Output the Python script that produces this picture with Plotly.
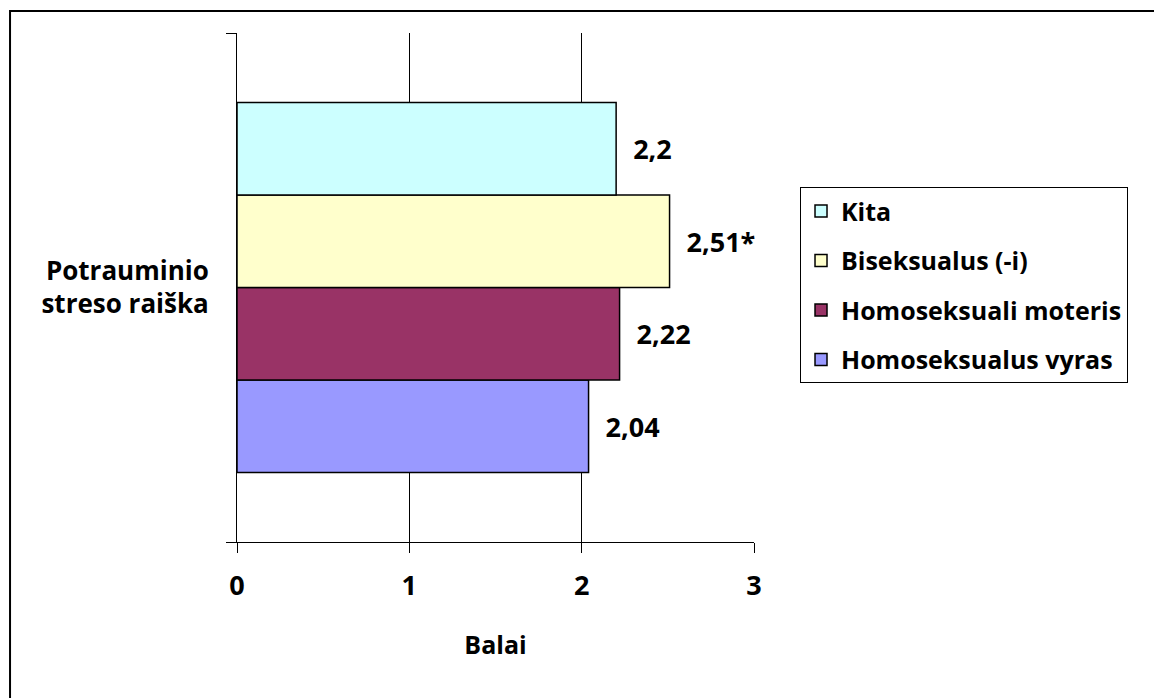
import plotly.graph_objects as go

# Categories and series values
category = ["Potrauminio<br>streso raiška"]
series_names = ["Homoseksualus vyras", "Homoseksuali moteris", "Biseksualus (-i)", "Kita"]
series_values = [2.04, 2.22, 2.51, 2.2]
series_labels = ["2,04", "2,22", "2,51*", "2,2"]
series_colors = ["#9999FF", "#993366", "#FFFFCC", "#CCFFFF"]
x_ticks = [0, 1, 2, 3]

FONT = "Open Sans"

fig = go.Figure()
n = len(series_names)
for i, (name, val, lab, col) in enumerate(zip(series_names, series_values, series_labels, series_colors)):
    fig.add_trace(go.Bar(
        y=category, x=[val], name=name, orientation="h",
        marker=dict(color=col, line=dict(color="black", width=1.5)),
        text=["\u00a0\u00a0" + lab], textposition="outside",
        textfont=dict(family=FONT, size=27, color="black", weight="bold"),
        cliponaxis=False, legendgroup=name, legendrank=n - i,
    ))

fig.update_layout(
    width=1154, height=698,
    margin=dict(l=237, r=400, t=33, b=156),
    paper_bgcolor="white", plot_bgcolor="white",
    barmode="group", bargap=0.273, bargroupgap=0,
    font=dict(family=FONT, size=24, color="black", weight="bold"),
    xaxis=dict(
        range=[0, 3], tickvals=x_ticks, ticktext=[str(t) for t in x_ticks],
        showgrid=True, gridcolor="black", gridwidth=1,
        ticks="outside", ticklen=10, tickcolor="black", tickwidth=1,
        showline=True, linecolor="black", linewidth=1,
        zeroline=False,
        tickfont=dict(family=FONT, size=27, weight="bold"),
        title=dict(text="Balai", font=dict(family=FONT, size=25, weight="bold"), standoff=34),
        ticklabelstandoff=10,
    ),
    yaxis=dict(
        showline=True, linecolor="black", linewidth=1,
        ticks="outside", ticklen=10, tickcolor="black", tickwidth=1,
        tickson="boundaries", showgrid=False,
        tickfont=dict(family=FONT, size=26, weight="bold"),
        ticklabelstandoff=22,
    ),
    showlegend=True,
    legend=dict(
        x=1.089, y=0.697, xanchor="left", yanchor="top",
        traceorder="grouped", tracegroupgap=14,
        bordercolor="black", borderwidth=1, bgcolor="white",
        font=dict(family=FONT, size=25, weight="bold"),
    ),
    shapes=[dict(
        type="rect", xref="paper", yref="paper",
        x0=-0.439, x1=1.9, y0=-0.5, y1=1.043,
        line=dict(color="black", width=2), fillcolor="rgba(0,0,0,0)", layer="below",
    )],
)

fig.write_html("out.html")
